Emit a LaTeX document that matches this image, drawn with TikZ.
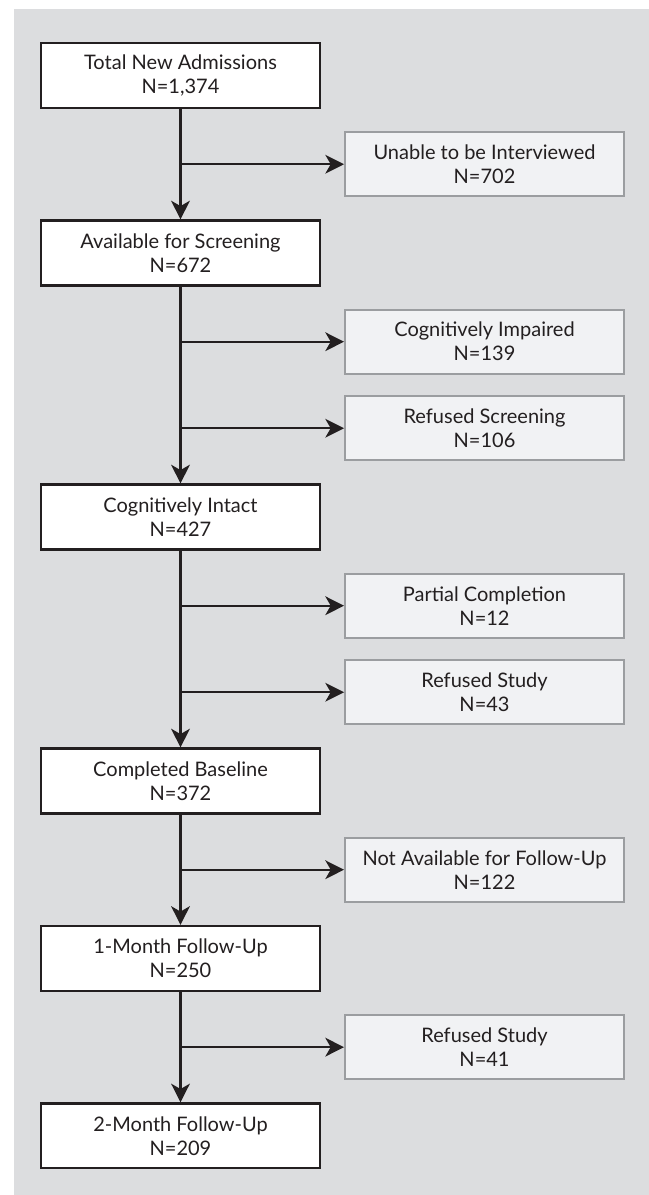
\documentclass[tikz,border=0pt]{standalone}
\usepackage{fontspec}
\setmainfont{Lato}
\usepackage{tikz}
\usetikzlibrary{arrows.meta,positioning}
\definecolor{flowbg}{RGB}{220,221,223}
\definecolor{flowink}{RGB}{35,31,32}
\definecolor{sidefill}{RGB}{241,242,244}
\definecolor{sideline}{RGB}{155,157,160}

\begin{document}
\begin{tikzpicture}[
    x=0.75pt,y=0.75pt,
    mainbox/.style={draw=flowink,fill=white,line width=1.8pt,
                minimum width=209pt,minimum height=48.5pt,align=center,
                inner sep=0pt,font=\fontsize{15}{18}\selectfont,text=flowink},
    sidebox/.style={mainbox,draw=sideline,fill=sidefill,line width=1.5pt,
                minimum width=209.2pt,minimum height=48pt},
    arr/.style={-{Stealth[length=14pt,width=14pt,inset=4pt]},line width=1.8pt,flowink}
  ]
    \fill[flowbg] (14,-9) rectangle (649,-1195);
    \useasboundingbox (0,0) rectangle (649,-1195);

    % main column
    \node[mainbox] (total) at (180.5,-75.5) {Total New Admissions\\N=1,374};
    \node[mainbox,below=82.8pt of total] (avail) {Available for Screening\\N=672};
    \node[mainbox,below=147.7pt of avail] (intact) {Cognitively Intact\\N=427};
    \node[mainbox,below=147.7pt of intact] (baseline) {Completed Baseline\\N=372};
    \node[mainbox,below=82.8pt of baseline] (month1) {1-Month Follow-Up\\N=250};
    \node[mainbox,below=82.8pt of month1] (month2) {2-Month Follow-Up\\N=209};

    % exclusions
    \node[sidebox,below right=16.65pt and 17.25pt of total.south east] (unable)
      {Unable to be Interviewed\\N=702};
    \node[sidebox,below right=16.65pt and 17.25pt of avail.south east] (impaired)
      {Cognitively Impaired\\N=139};
    \node[sidebox,below=15.4pt of impaired] (refscreen) {Refused Screening\\N=106};
    \node[sidebox,below right=16.65pt and 17.25pt of intact.south east] (partial)
      {Partial Completion\\N=12};
    \node[sidebox,below=15.4pt of partial] (refstudy) {Refused Study\\N=43};
    \node[sidebox,below right=16.65pt and 17.25pt of baseline.south east] (notavail)
      {Not Available for Follow-Up\\N=122};
    \node[sidebox,below right=16.65pt and 17.25pt of month1.south east] (refstudyb)
      {Refused Study\\N=41};

    \draw[arr] (total) -- (avail);
    \draw[arr] (avail) -- (intact);
    \draw[arr] (intact) -- (baseline);
    \draw[arr] (baseline) -- (month1);
    \draw[arr] (month1) -- (month2);

    \draw[arr] (unable.west -| total.south) -- (unable);
    \draw[arr] (impaired.west -| avail.south) -- (impaired);
    \draw[arr] (refscreen.west -| avail.south) -- (refscreen);
    \draw[arr] (partial.west -| intact.south) -- (partial);
    \draw[arr] (refstudy.west -| intact.south) -- (refstudy);
    \draw[arr] (notavail.west -| baseline.south) -- (notavail);
    \draw[arr] (refstudyb.west -| month1.south) -- (refstudyb);
  \end{tikzpicture}
\end{document}
